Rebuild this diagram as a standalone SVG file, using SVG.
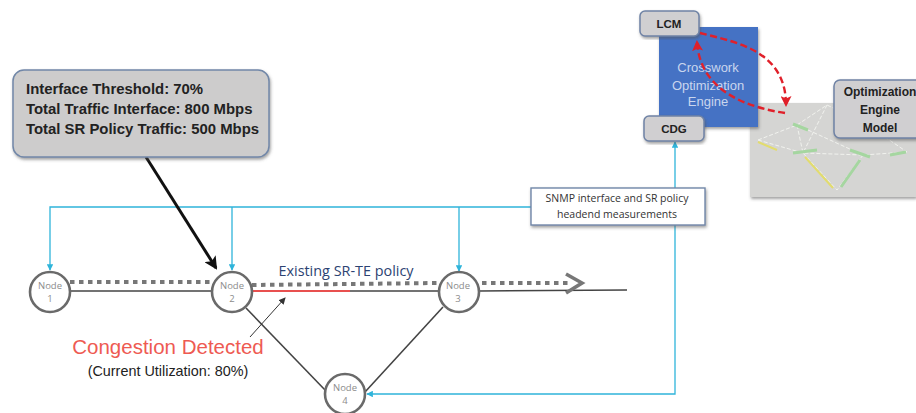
<svg xmlns="http://www.w3.org/2000/svg" width="916" height="413" viewBox="0 0 916 413">
<style>
text{font-family:"Liberation Sans",Arial,sans-serif;text-anchor:middle}
.cy{fill:none;stroke:#2fb4da;stroke-width:1.3}
.lnk{fill:none;stroke:#444;stroke-width:1.6}
.dots{fill:none;stroke:#777;stroke-width:4;stroke-dasharray:4.5 4.5}
.red{fill:none;stroke:#e0202a;stroke-width:2.4;stroke-dasharray:7 3.5}
.node{fill:#fff;stroke:#6a6a6a;stroke-width:2.6}
.nt{font-family:"Open Sans","Liberation Sans",sans-serif;font-size:9.5px;fill:#8c8c8c}
.gb{fill:#d0cfd1;stroke:#6f83a5;stroke-width:1.5}
.bt{font-weight:bold;fill:#222}
.cl{font-weight:bold;fill:#222;font-size:14.9px;text-anchor:start}
.eg{font-size:13px;fill:#c9d6ee}
.mt{font-family:"Open Sans","Liberation Sans",sans-serif;font-size:10.5px;fill:#333}
.pol{font-family:"Open Sans","Liberation Sans",sans-serif;font-size:14.4px;fill:#2c4372}
.mesh{fill:none;stroke:#f1f2ee;stroke-width:1;stroke-dasharray:4 2}
.mg{fill:none;stroke:#a5d6a0;stroke-width:3}
.my{fill:none;stroke:#e2dc6e;stroke-width:2}
</style>
<defs>
<marker id="cya" markerWidth="5" markerHeight="5" refX="4.5" refY="2.5" orient="auto"><path d="M0 0L5 2.5L0 5Z" fill="#2fb4da"/></marker>
<marker id="reda" markerUnits="userSpaceOnUse" markerWidth="11" markerHeight="11" refX="9" refY="5.5" orient="auto"><path d="M0 0L11 5.5L0 11L2.5 5.5Z" fill="#e0202a"/></marker>
<marker id="blka" markerUnits="userSpaceOnUse" markerWidth="13" markerHeight="13" refX="11" refY="6.5" orient="auto"><path d="M0 0L13 6.5L0 13L3 6.5Z" fill="#111"/></marker>
<marker id="thin" markerUnits="userSpaceOnUse" markerWidth="7" markerHeight="7" refX="6" refY="3.5" orient="auto"><path d="M0 0L7 3.5L0 7Z" fill="#333"/></marker>
<filter id="sh" x="-10%" y="-10%" width="125%" height="125%"><feDropShadow dx="1" dy="2" stdDeviation="1.5" flood-color="#555" flood-opacity=".55"/></filter>
<filter id="bl" x="-5%" y="-5%" width="110%" height="110%"><feGaussianBlur stdDeviation="0.4"/></filter>
</defs>
<rect width="916" height="413" fill="#fff"/>

<g id="connectors">
<path class="cy" d="M531 207H50V270" marker-end="url(#cya)"/>
<path class="cy" d="M232 207V270" marker-end="url(#cya)"/>
<path class="cy" d="M459 207V271" marker-end="url(#cya)"/>
<path class="cy" d="M675 225V394H367" marker-end="url(#cya)"/>
<path class="cy" d="M675 188V142" marker-end="url(#cya)"/>
<path class="lnk" d="M70 291H212"/>
<path d="M252 291H350" fill="none" stroke="#e8504f" stroke-width="1.8"/>
<path class="lnk" d="M350 291H439"/>
<path class="lnk" d="M479 291L627 290"/>
<path class="lnk" d="M246 308L326 391"/>
<path class="lnk" d="M443 307L365 392"/>
<path class="dots" d="M70 282H212"/>
<path class="dots" d="M252 285L439 283"/>
<path class="dots" d="M482 283H570"/>
<path d="M566 274L582 283L566 293" fill="none" stroke="#777" stroke-width="3.6"/>
<path d="M146 157L216 268" fill="none" stroke="#111" stroke-width="3" marker-end="url(#blka)"/>
<path d="M250 337L285 298" fill="none" stroke="#333" stroke-width="1" marker-end="url(#thin)"/>
</g>

<g id="model-image">
<rect x="750" y="103" width="166" height="94" fill="#d5d5d3" filter="url(#sh)"/>
<g filter="url(#bl)">
<path class="mesh" d="M758 140L797 125L827 105L863 122L907 152M797 125L803 153L863 155L907 152M758 140L803 153M797 125L863 155L837 190L803 153M827 105L803 153"/>
<path class="mg" d="M793 124L808 130M793 153L817 150M850 150L870 157M890 155L906 152M841 187L860 160"/>
<path class="my" d="M758 142L777 150M805 157L833 188"/>
</g>
</g>

<g id="engine">
<rect x="659" y="27" width="99" height="100" fill="#4472c4" filter="url(#sh)"/>
<text x="708" y="72" class="eg">Crosswork</text>
<text x="708" y="90" class="eg">Optimization</text>
<text x="708" y="106" class="eg">Engine</text>
</g>
<g id="lcm">
<rect x="640" y="11" width="59" height="25" rx="5" class="gb" filter="url(#sh)"/>
<text x="669" y="28" font-size="11.5" class="bt">LCM</text>
</g>
<g id="cdg">
<rect x="644" y="116" width="60" height="25" rx="5" class="gb" filter="url(#sh)"/>
<text x="674" y="133" font-size="11.5" class="bt">CDG</text>
</g>
<g id="engine-model">
<rect x="834" y="80" width="90" height="58" rx="6" class="gb" filter="url(#sh)"/>
<text x="880" y="96" font-size="12" class="bt">Optimization</text>
<text x="880" y="114" font-size="12" class="bt">Engine</text>
<text x="880" y="132" font-size="12" class="bt">Model</text>
</g>
<g id="red-arrows">
<path class="red" d="M700 33C735 42 786 50 786 105" marker-end="url(#reda)"/>
<path class="red" d="M785 113C745 107 700 90 697 42" marker-end="url(#reda)"/>
</g>

<g id="callout">
<rect x="13" y="70" width="256" height="87" rx="11" fill="#cdcccc" stroke="#7187a8" stroke-width="1.5" filter="url(#sh)"/>
<text x="26" y="94" class="cl">Interface Threshold: 70%</text>
<text x="26" y="114" class="cl">Total Traffic Interface: 800 Mbps</text>
<text x="26" y="134" class="cl">Total SR Policy Traffic: 500 Mbps</text>
</g>

<g id="snmp">
<rect x="531" y="188" width="174" height="37" fill="#fff" stroke="#7187a8" stroke-width="1.4" filter="url(#sh)"/>
<text x="617" y="202" class="mt">SNMP interface and SR policy</text>
<text x="617" y="218" class="mt">headend measurements</text>
</g>

<g id="node1"><circle cx="50" cy="292" r="20" class="node"/><text x="50" y="289" class="nt">Node</text><text x="50" y="302" class="nt">1</text></g>
<g id="node2"><circle cx="232" cy="292" r="20" class="node"/><text x="232" y="289" class="nt">Node</text><text x="232" y="302" class="nt">2</text></g>
<g id="node3"><circle cx="459" cy="292" r="20" class="node"/><text x="458" y="289" class="nt">Node</text><text x="458" y="302" class="nt">3</text></g>
<g id="node4"><circle cx="345" cy="394" r="20" class="node"/><text x="345" y="391" class="nt">Node</text><text x="345" y="404" class="nt">4</text></g>

<text x="346" y="276" class="pol">Existing SR-TE policy</text>
<text x="168" y="354" font-size="20.5" fill="#ee5a52">Congestion Detected</text>
<text x="168" y="376" font-size="14.4" fill="#222">(Current Utilization: 80%)</text>
</svg>
